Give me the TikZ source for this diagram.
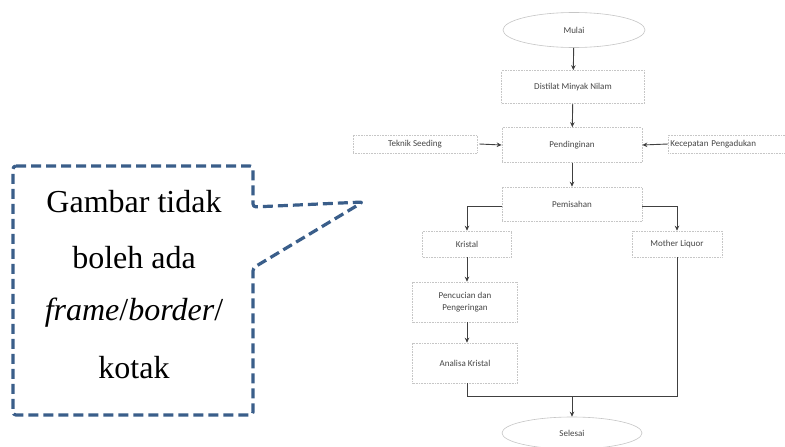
\documentclass[tikz,border=0pt]{standalone}
\usepackage{fontspec}
\setmainfont{Liberation Serif}
\newfontfamily\flowfont{Carlito}
\usetikzlibrary{arrows.meta,shapes.geometric}
\definecolor{callblue}{RGB}{58,94,138}
\definecolor{flowtext}{RGB}{70,70,70}
\begin{document}
\begin{tikzpicture}[x=1pt,y=-1pt,
  fbox/.style={draw=gray!45, densely dotted, line width=0.6pt, minimum height=#1, align=center,
     font=\flowfont\fontsize{9}{12}\selectfont, text=flowtext, inner sep=1pt},
  fbox/.default=30pt,
  fell/.style={draw=gray!45, line width=0.6pt, ellipse, font=\flowfont\fontsize{9}{12}\selectfont, text=flowtext},
  conn/.style={draw=black!75, line width=0.9pt},
  arr/.style={conn, -{Stealth[length=5pt,width=4.5pt]}},
  callout/.style={draw=callblue, line width=3.2pt, dash pattern=on 10pt off 5pt, rounded corners=3pt, line join=round},
  ctext/.style={font=\fontsize{32}{36}\selectfont, anchor=center}]
\useasboundingbox (0,0) rectangle (785,447);
\fill[white] (0,0) rectangle (785,447);

% flowchart nodes
\node[fell, minimum width=142pt, minimum height=35pt] (mulai) at (574,30) {Mulai};
\node[fbox=33pt, minimum width=143pt] (distilat) at (573,87) {Distilat Minyak Nilam};
\node[fbox=35pt, minimum width=140pt] (dingin) at (572,145) {Pendinginan};
\node[fbox=18pt, minimum width=124pt] (seeding) at (415,144) {Teknik Seeding};
\node[fbox=18pt, minimum width=130pt, anchor=west, text width=126pt, align=left] (kecepatan) at (668,144) {Kecepatan Pengadukan};
\node[fbox=34pt, minimum width=140pt] (pisah) at (572,204) {Pemisahan};
\node[fbox=26pt, minimum width=89pt] (kristal) at (467,244) {Kristal};
\node[fbox=26pt, minimum width=90pt] (mother) at (677,244) {Mother Liquor};
\node[fbox=40pt, minimum width=105pt] (cuci) at (465,302) {Pencucian dan\\Pengeringan};
\node[fbox=40pt, minimum width=105pt] (analisa) at (465,363) {Analisa Kristal};
\node[fell, minimum width=140pt, minimum height=32pt] (selesai) at (572,433) {Selesai};
\coordinate (join) at (572,396);

% connectors
\draw[arr] (seeding.east) ++(2,0) coordinate (se) (se) -- (dingin.west);
\draw[arr] (mulai) -- (distilat);
\draw[arr] (distilat) -- (dingin);
\draw[arr] (kecepatan.west) -- (dingin.east);
\draw[arr] (dingin) -- (pisah);
\draw[arr] (pisah.west |- 0,206) -| (kristal.north);
\draw[arr] (pisah.east |- 0,206) -| (mother.north);
\draw[arr] (kristal) -- (cuci.north -| kristal);
\draw[arr] (cuci.south -| kristal) -- (analisa.north -| kristal);
\draw[conn] (analisa.south -| kristal) |- (join);
\draw[conn] (mother.south) |- (join);
\draw[arr] (join) -- (selesai.north);

% callout
\draw[callout] (13,166) -- (253,166) -- (253,207) -- (363,202) -- (253,268) -- (253,415) -- (13,415) -- cycle;
\node[ctext] (t1) at (134,202) {Gambar tidak};
\node[ctext] (t2) at (134,258) {boleh ada};
\node[ctext] (t3) at (134,313) {\textit{frame}/\textit{border}/};
\node[ctext] (t4) at (134,368) {kotak};
\end{tikzpicture}
\end{document}
